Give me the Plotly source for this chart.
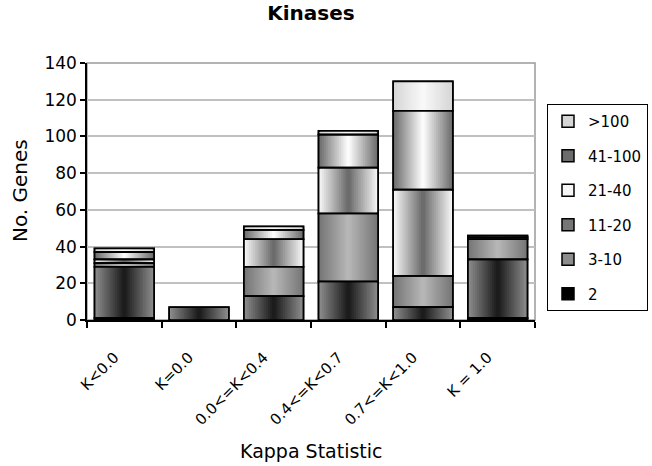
import plotly.graph_objects as go

# Kappa statistic categories and gene counts per copy-number group
categories = ["K&lt;0.0", "K=0.0", "0.0&lt;=K&lt;0.4", "0.4&lt;=K&lt;0.7", "0.7&lt;=K&lt;1.0", "K = 1.0"]
series_names = ["2", "3-10", "11-20", "21-40", "41-100", "&gt;100"]
genes_2 = [1, 0, 0, 0, 0, 1]
genes_3_10 = [28, 7, 13, 21, 7, 32]
genes_11_20 = [2, 0, 16, 37, 17, 11]
genes_21_40 = [2, 0, 15, 25, 47, 1]
genes_41_100 = [4, 0, 5, 18, 43, 1]
genes_over_100 = [2, 0, 2, 2, 16, 0]
y_ticks = [0, 20, 40, 60, 80, 100, 120, 140]

series = [genes_2, genes_3_10, genes_11_20, genes_21_40, genes_41_100, genes_over_100]

# (edge colour, centre colour) of each series' horizontal gradient fill
shades = [
    ("#000000", "#000000"),
    ("#8c8c8c", "#1c1c1c"),
    ("#767676", "#b6b6b6"),
    ("#f6f6f6", "#6c6c6c"),
    ("#6c6c6c", "#fbfbfb"),
    ("#d6d6d6", "#f8f8f8"),
]

FONT = "DejaVu Sans, Verdana, sans-serif"
BAR_WIDTH = 0.8
N_LAYERS = 16


def mix(c1, c2, t):
    a = [int(c1[i:i + 2], 16) for i in (1, 3, 5)]
    b = [int(c2[i:i + 2], 16) for i in (1, 3, 5)]
    r, g, bl = (round(x + (y - x) * t) for x, y in zip(a, b))
    return f"rgb({r},{g},{bl})"


# stack bases, bottom series first
segments = []
base = [0.0] * len(categories)
for name, values, shade in zip(series_names, series, shades):
    y = [v if v > 0 else None for v in values]
    b = [bb if v > 0 else None for bb, v in zip(base, values)]
    segments.append((name, y, b, shade))
    base = [bb + v for bb, v in zip(base, values)]

fig = go.Figure()

# top series added first so the legend lists ">100" at the top
for name, y, b, (edge, centre) in reversed(segments):
    # nested bars of shrinking width give a horizontal edge-to-centre gradient
    for k in range(N_LAYERS):
        w = BAR_WIDTH * (1 - k / N_LAYERS)
        t = k / (N_LAYERS - 1)
        fig.add_trace(go.Bar(
            x=categories, y=y, base=b, width=w,
            marker=dict(color=mix(edge, centre, t),
                        line=dict(color="black", width=1.5 if k == 0 else 0)),
            name=name, legendgroup=name, showlegend=(k == 0),
            hoverinfo="skip",
        ))

# crisp black outlines around every stacked segment
for name, y, b, _ in segments:
    fig.add_trace(go.Bar(
        x=categories, y=y, base=b, width=BAR_WIDTH,
        marker=dict(color="rgba(0,0,0,0)", line=dict(color="black", width=1.6)),
        legendgroup=name, showlegend=False, hoverinfo="skip",
    ))

fig.update_layout(
    width=652, height=466,
    margin=dict(l=87, r=114, t=63, b=146),
    paper_bgcolor="white", plot_bgcolor="white",
    barmode="overlay",
    font=dict(family=FONT, color="black", size=16),
    title=dict(text="<b>Kinases</b>", x=0.5, xref="paper", y=1 - 13 / 466,
               yref="container", xanchor="center", yanchor="middle",
               font=dict(size=20, family=FONT)),
    showlegend=True,
    legend=dict(
        xref="container", yref="container",
        x=547 / 652, y=1 - 104 / 466, xanchor="left", yanchor="top",
        traceorder="grouped", tracegroupgap=12,
        bordercolor="black", borderwidth=1, bgcolor="white",
        font=dict(size=15, family=FONT),
    ),
    shapes=[dict(type="rect", xref="paper", yref="paper", x0=0, y0=0, x1=1, y1=1,
                 line=dict(color="#9a9a9a", width=1.5), layer="below")],
    annotations=[
        dict(text="Kappa Statistic", xref="paper", yref="paper", x=0.5, y=-0.51,
             xanchor="center", yanchor="middle", showarrow=False,
             font=dict(size=19, family=FONT)),
        dict(text="No. Genes", xref="paper", yref="paper", x=-0.15, y=0.505,
             xanchor="center", yanchor="middle", textangle=-90, showarrow=False,
             font=dict(size=20, family=FONT)),
    ],
)

fig.update_xaxes(
    type="category", categoryorder="array", categoryarray=categories,
    tickson="boundaries", ticks="outside", ticklen=6, tickwidth=1.5, tickcolor="black",
    showline=True, linecolor="black", linewidth=1.5, showgrid=False,
    tickangle=-45, ticklabelstandoff=21, ticklabelshift=-10,
    tickfont=dict(size=15, family=FONT),
)
fig.update_yaxes(
    range=[0, 140], tickvals=y_ticks, ticks="outside", ticklen=5, tickwidth=1.5,
    tickcolor="black", showline=True, linecolor="black", linewidth=1.5,
    showgrid=True, gridcolor="#c0c0c0", gridwidth=1.5, zeroline=False,
    tickfont=dict(size=17, family=FONT),
)

fig.write_html("out.html")
